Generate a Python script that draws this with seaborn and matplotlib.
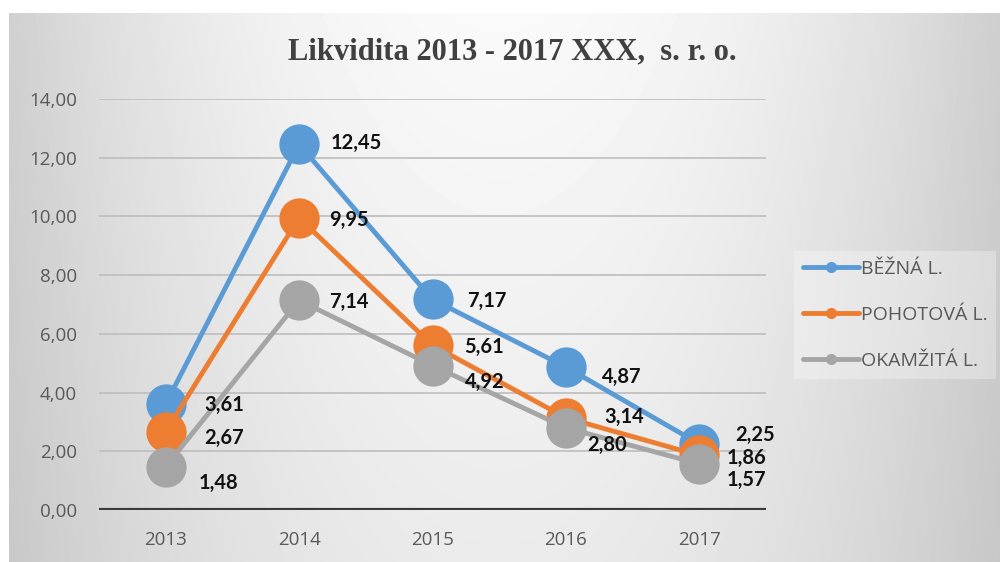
# Likvidita 2013 - 2017

import numpy as np
import matplotlib
matplotlib.use('Agg')
import matplotlib.pyplot as plt
from matplotlib.lines import Line2D
from matplotlib.ticker import FuncFormatter
import seaborn as sns
import pandas as pd

sns.set_style('white')
plt.rcParams['font.family'] = ['Open Sans', 'DejaVu Sans']

## data
years = ['2013', '2014', '2015', '2016', '2017']
series = ['BĚŽNÁ L.', 'POHOTOVÁ L.', 'OKAMŽITÁ L.']
bezna = [3.61, 12.45, 7.17, 4.87, 2.25]
pohotova = [2.67, 9.95, 5.61, 3.14, 1.86]
okamzita = [1.48, 7.14, 4.92, 2.80, 1.57]
yticks = [0, 2, 4, 6, 8, 10, 12, 14]

colors = ['#5B9BD5', '#ED7D31', '#A5A5A5']

# label offsets in px (dx, dy up)
offsets = [[(39, -1), (32, 1), (35, -1), (36, -10), (36, 9)],
           [(39, -6), (30, -2), (32, -2), (38, 1), (27, -3)],
           [(33, -16), (30, -2), (32, -16), (21, -17), (27, -16)]]

df = pd.DataFrame({'rok': years * 3,
                   'hodnota': bezna + pohotova + okamzita,
                   'ukazatel': [s for s in series for _ in years]})

fig = plt.figure(figsize=(10, 5.62), dpi=100)

# background gradient
H, W = 562, 1000
xx = np.linspace(-1, 1, W)[None, :]
tt = np.linspace(0, 1, H)[:, None]
bg = 0.98 - 0.17 * xx**2 - 0.06 * tt * (1 - 0.5 * xx**2)
bg[:13, :] = 1.0
bg[:, :9] = 1.0
bga = fig.add_axes([0, 0, 1, 1], zorder=-5)
bga.imshow(bg, cmap='gray', vmin=0, vmax=1, aspect='auto', interpolation='bilinear')
bga.axis('off')

ax = fig.add_axes([0.099, 0.0925, 0.667, 0.7315])
ax.set_facecolor('none')

sns.lineplot(data=df, x='rok', y='hodnota', hue='ukazatel', palette=colors,
             marker='o', markersize=29, markeredgewidth=0, linewidth=3.5,
             legend=False, ax=ax, sort=False)

for i, vals in enumerate([bezna, pohotova, okamzita]):
    for j, v in enumerate(vals):
        dx, dy = offsets[i][j]
        ax.annotate(f'{v:.2f}'.replace('.', ','), xy=(j, v),
                    xytext=(dx * 0.72, dy * 0.72), textcoords='offset points',
                    ha='left', va='center', fontsize=14.5, fontweight='bold',
                    color='#111111', zorder=10, family=['Lato', 'DejaVu Sans'])

ax.set_xlim(-0.5, 4.5)
ax.set_ylim(0, 14)
ax.set_yticks(yticks)
ax.yaxis.set_major_formatter(FuncFormatter(lambda v, p: f'{v:.2f}'.replace('.', ',')))
ax.grid(axis='y', color='#bdbdbd', linewidth=1.2)
ax.set_axisbelow(True)
ax.axhline(0, color='#3a3a3a', linewidth=3, zorder=1)
sns.despine(ax=ax, left=True, bottom=True)
ax.tick_params(axis='y', length=0, pad=16, labelsize=13.5, labelcolor='#595959')
ax.tick_params(axis='x', length=0, pad=15, labelsize=13.5, labelcolor='#595959')
ax.set_xlabel('')
ax.set_ylabel('')

fig.text(0.512, 1 - 52 / 562, 'Likvidita 2013 - 2017 XXX,  s. r. o.',
         ha='center', va='center', fontsize=22, fontweight='bold',
         color='#404040', family='Liberation Serif')

handles = [Line2D([], [], color=c, linewidth=3.5, marker='o', markersize=8,
                  markeredgewidth=0) for c in colors]
leg = ax.legend(handles, series, loc='center left', bbox_to_anchor=(0.794, 0.44),
                bbox_transform=fig.transFigure, borderaxespad=0, frameon=True,
                fontsize=14, labelspacing=1.45, handlelength=2.9, handletextpad=0.1,
                fancybox=False, borderpad=0.45)
leg.get_frame().set_facecolor('white')
leg.get_frame().set_alpha(0.3)
leg.get_frame().set_edgecolor('none')
for t in leg.get_texts():
    t.set_color('#595959')

plt.savefig('out.png', dpi=100)
